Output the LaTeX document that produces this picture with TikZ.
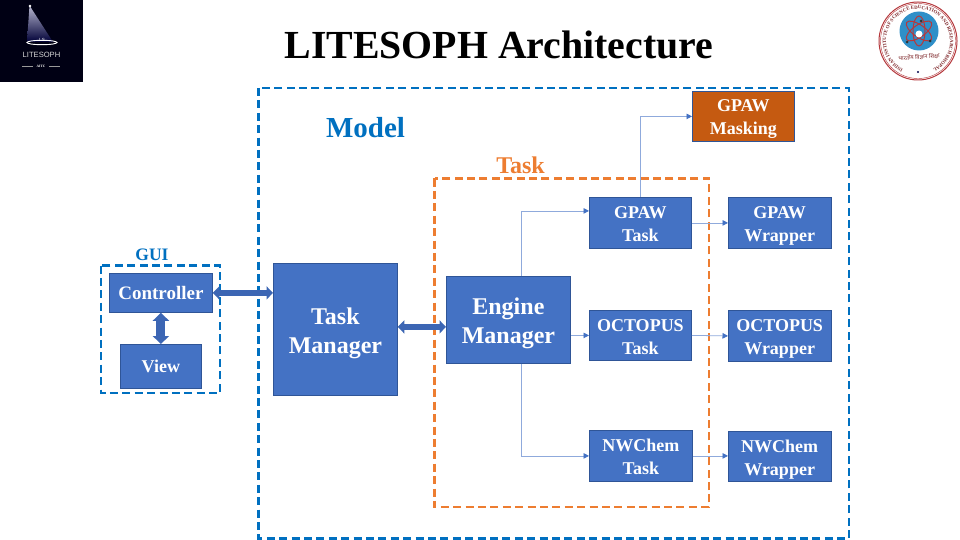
\documentclass[tikz,border=0pt]{standalone}
\usepackage{fontspec}
\setmainfont{Liberation Serif}
\setsansfont{Liberation Sans}
\newfontfamily\hindifont[Script=Devanagari]{Noto Sans}
\usetikzlibrary{arrows.meta,decorations.text,calc}
\definecolor{boxblue}{HTML}{4472C4}
\definecolor{boxedge}{HTML}{2F5597}
\definecolor{modelblue}{HTML}{0070C0}
\definecolor{taskorange}{HTML}{ED7D31}
\definecolor{maskfill}{HTML}{C55A11}
\definecolor{thinline}{HTML}{8FAADC}
\definecolor{sealred}{HTML}{B5383C}
\definecolor{sealblue}{HTML}{2F8FC8}
\definecolor{arrowblue}{HTML}{3C66B4}
\tikzset{
  x=1pt,y=-1pt,
  blockbox/.style={draw=boxedge,line width=0.8pt,fill=boxblue,text=white,font=\bfseries,align=center,inner sep=0pt,anchor=north west,execute at begin node={\setlength{\baselineskip}{#1}}},
  blockbox/.default=23pt,
  dashzone/.style={line width=2.8pt,dash pattern=on 8pt off 4.4pt,line join=miter},
  thickarrow/.style={line width=5.5pt,draw=arrowblue,{Triangle[length=6.5pt,width=13pt]}-{Triangle[length=6.5pt,width=13pt]}},
  tallarrow/.style={line width=9pt,draw=arrowblue,{Triangle[length=8pt,width=16pt]}-{Triangle[length=8pt,width=16pt]}},
  thinarrow/.style={line width=0.8pt,draw=thinline,-{Triangle[length=5.5pt,width=5.5pt,fill=boxblue,color=boxblue]}},
  zonelabel/.style={font=\bfseries,inner sep=0pt}
}
\newcommand{\blocknode}[7][]{\node[blockbox=#7,#1,minimum width=#4,minimum height=#5] (#2) at (#3) {#6};}
\newcommand{\pushed}[1]{\rule{0pt}{#1}}
\begin{document}
\begin{tikzpicture}
\useasboundingbox (0,0) rectangle (960,540);
\fill[white] (0,0) rectangle (960,540);
% left logo
\fill[black!92!blue] (0,0) rectangle (83,82);
\shade[opacity=.8,top color=white!90!blue,bottom color=blue!25!black] (29.5,5.5) -- (27,42) -- (53,42) -- cycle;
\fill[white] (30,6) circle (1.3);
\draw[white,line width=.9pt] (42,42.5) ellipse (15 and 2.2);
\node[text=white,font=\sffamily\fontsize{4.5}{5}\selectfont,inner sep=0pt] (logols) at (42,40) {LS};
\node[text=white!85!black,font=\sffamily\fontsize{7.6}{8}\selectfont,inner sep=0pt] (logoname) at (41.5,54.5) {LITESOPH};
\node[text=white,font=\fontsize{3.5}{4}\selectfont\bfseries,inner sep=0pt] (logosub) at (41,66) {AITC};
\draw[white!60!black,line width=.4pt] (22,66) -- (33,66) (49,66) -- (60,66);
% right seal
\draw[sealred,line width=1pt] (918,41) circle (39);
\draw[sealred,line width=.4pt] (918,41) circle (37.5);
\fill[sealblue] (919,31) circle (19.5);
\draw[sealred,line width=1pt,rotate around={35:(919,31)}] (919,31) ellipse (15 and 6);
\draw[sealred,line width=1pt,rotate around={-35:(919,31)}] (919,31) ellipse (15 and 6);
\draw[sealred,line width=1pt,rotate around={90:(919,31)}] (919,31) ellipse (15 and 6);
\fill[white] (919,34) circle (3.5);
\fill[black!80] (921,21) circle (1.5) (907,42) circle (1.5) (930,41) circle (1.5);
\begin{scope}[shift={(918,41)},x=1pt,y=1pt]
\path[postaction={decorate,decoration={text along path,text align=center,text={|\fontsize{4.9}{6}\selectfont\bfseries\color{sealred!70!black}|INDIAN INSTITUTE OF SCIENCE EDUCATION AND RESEARCH BHOPAL}}}]
  (250:32) arc[start angle=250,end angle=-70,radius=32];
\end{scope}
\fill[black!70!blue] (918,72) circle (1.2);
\node[text=sealred!70!black,font=\hindifont\fontsize{5.5}{6}\selectfont,inner sep=0pt,rotate=4] (sealhindi) at (919,57) {भारतीय विज्ञान शिक्षा};
% title
\node[font=\fontsize{39.8}{40}\selectfont\bfseries,inner sep=0pt] (title) at (499,45) {LITESOPH Architecture};
% zones
\draw[dashzone,draw=modelblue] (258.5,88) rectangle (849,538.5);
\draw[dashzone,draw=taskorange] (434.5,178.5) rectangle (709,507);
\draw[dashzone,draw=modelblue] (101,265.5) rectangle (220,393);
\node[zonelabel,text=modelblue,font=\fontsize{29}{29}\selectfont\bfseries] (modellabel) at (365.5,128) {Model};
\node[zonelabel,text=taskorange,font=\fontsize{24}{24}\selectfont\bfseries] (tasklabel) at (520.5,165) {Task};
\node[zonelabel,text=modelblue,font=\fontsize{17.5}{17.5}\selectfont\bfseries] (guilabel) at (152,255) {GUI};
% blocks
\blocknode[font=\fontsize{19}{19}\selectfont\bfseries]{ctrl}{109,273}{103pt}{39pt}{Controller}{20pt}
\blocknode[font=\fontsize{18}{18}\selectfont\bfseries]{view}{120,344}{81pt}{44pt}{View}{20pt}
\blocknode[font=\fontsize{24}{24}\selectfont\bfseries]{tm}{273,263}{124pt}{132pt}{\pushed{24pt}Task\\Manager}{29pt}
\blocknode[font=\fontsize{24}{24}\selectfont\bfseries]{em}{446,276}{124pt}{87pt}{\pushed{24pt}Engine\\Manager}{29pt}
\blocknode[font=\fontsize{18}{18}\selectfont\bfseries]{gt}{589,197}{102pt}{51pt}{\pushed{15pt}GPAW\\Task}{23pt}
\blocknode[font=\fontsize{18}{18}\selectfont\bfseries]{ot}{589,310}{102pt}{50pt}{\pushed{15pt}OCTOPUS\\Task}{23pt}
\blocknode[font=\fontsize{18}{18}\selectfont\bfseries]{nt}{589,430}{103pt}{51pt}{\pushed{15pt}NWChem\\Task}{23pt}
\blocknode[font=\fontsize{18}{18}\selectfont\bfseries]{gw}{728,197}{102.5pt}{51pt}{\pushed{19pt}GPAW\\Wrapper}{23pt}
\blocknode[font=\fontsize{18}{18}\selectfont\bfseries]{ow}{728,310}{102.5pt}{51pt}{\pushed{19pt}OCTOPUS\\Wrapper}{23pt}
\blocknode[font=\fontsize{18}{18}\selectfont\bfseries]{nw}{728,431}{102.5pt}{50pt}{\pushed{19pt}NWChem\\Wrapper}{23pt}
\blocknode[fill=maskfill,font=\fontsize{18}{18}\selectfont\bfseries]{mask}{692,91}{102pt}{50pt}{\pushed{18pt}GPAW\\Masking}{23pt}
% thick arrows
\draw[thickarrow] (ctrl.east) -- (tm.west |- ctrl.east);
\draw[tallarrow] (view.north |- ctrl.south) -- (view.north);
\draw[thickarrow] ([yshift=-7pt]tm.east |- em.west) -- ([yshift=-7pt]em.west);
% thin arrows
\draw[thinarrow] ([xshift=12.5pt]em.north) |- ([yshift=12pt]gt.west);
\draw[thinarrow] (em.east |- ot.west) -- (ot.west);
\draw[thinarrow] ([xshift=12.5pt]em.south) |- (nt.west);
\draw[thinarrow] (gt.east) -- (gw.west);
\draw[thinarrow] (ot.east) -- (ow.west);
\draw[thinarrow] (nt.east) -- (nw.west |- nt.east);
\draw[thinarrow] (gt.north) |- (mask.west);
\end{tikzpicture}
\end{document}
